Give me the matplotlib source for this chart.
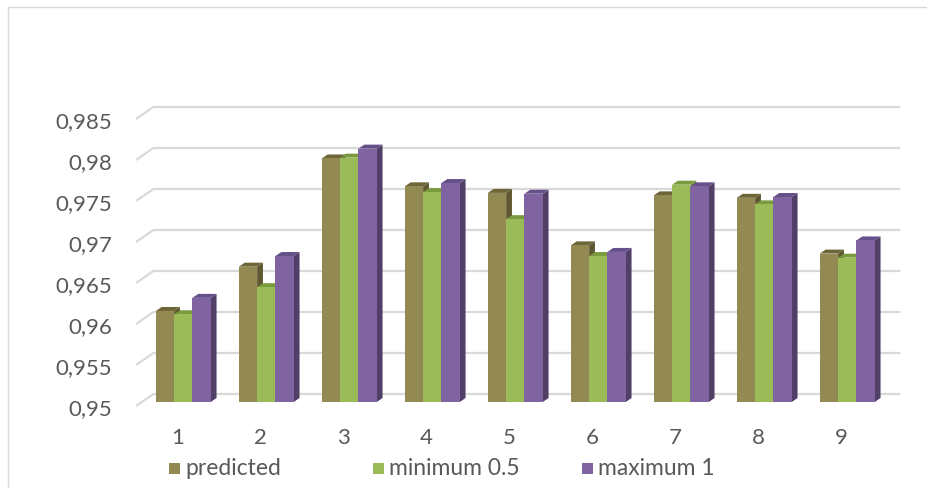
import matplotlib
matplotlib.use("Agg")
import matplotlib.pyplot as plt
from matplotlib.patches import Polygon, Rectangle
from matplotlib.lines import Line2D

categories = ['1', '2', '3', '4', '5', '6', '7', '8', '9']
predicted = [0.9611, 0.9665, 0.9797, 0.9763, 0.9755, 0.9691, 0.9752, 0.9749, 0.9681]
minimum = [0.9607, 0.9640, 0.9798, 0.9756, 0.9723, 0.9678, 0.9765, 0.9741, 0.9676]
maximum = [0.9627, 0.9678, 0.9809, 0.9767, 0.9754, 0.9683, 0.9763, 0.9750, 0.9697]
series_names = ['predicted', 'minimum 0.5', 'maximum 1']
y_ticks = [0.95, 0.955, 0.96, 0.965, 0.97, 0.975, 0.98, 0.985]
y_tick_labels = ['0,95', '0,955', '0,96', '0,965', '0,97', '0,975', '0,98', '0,985']

front_cols = ['#938953', '#9BBB59', '#8064A2']
top_cols = ['#6E6638', '#7A9A3E', '#65508A']
side_cols = ['#5E5732', '#6A8735', '#513F68']

FONT = ['Lato', 'DejaVu Sans']
TXT = '#595959'
GRID = '#D9D9D9'

W, H = 928, 489
fig = plt.figure(figsize=(W / 100, H / 100), dpi=100)
# axes = front plane of the 3D box
ax_l, ax_r, ax_b, ax_t = 136, 883, 407, 120   # pixel coords (y from top)
ax = fig.add_axes([ax_l / W, (H - ax_b) / H, (ax_r - ax_l) / W, (ax_b - ax_t) / H])
ax.set_xlim(0.5, 9.5)
ax.set_ylim(0.95, 0.985)
for s in ax.spines.values():
    s.set_visible(False)
ax.patch.set_alpha(0)

cx = 9.0 / (ax_r - ax_l)        # category units per pixel
cy = 0.035 / (ax_b - ax_t)      # value units per pixel
SX, SY = 1.45, 1.0              # oblique projection per depth pixel
DEPTH_BACK = 12
T1, T2 = 4, 8                   # bar front / back depth


def off(x, y, t):
    return (x + SX * t * cx, y + SY * t * cy)


# gridlines: diagonal on floor-left + back wall line
for v in y_ticks:
    p0 = (0.5, v)
    p1 = off(0.5, v, DEPTH_BACK)
    p2 = off(9.5, v, DEPTH_BACK)
    ax.add_line(Line2D([p0[0], p1[0], p2[0]], [p0[1], p1[1], p2[1]],
                       color=GRID, lw=1.6, zorder=1, solid_capstyle='butt',
                       clip_on=False))

ax.set_yticks(y_ticks)
ax.set_yticklabels(y_tick_labels)
ax.set_xticks(range(1, len(categories) + 1))
ax.set_xticklabels(categories)
ax.tick_params(axis='y', length=0, pad=17, labelsize=16, labelcolor=TXT)
ax.tick_params(axis='x', length=0, pad=15, labelsize=16, labelcolor=TXT)
for lab in ax.get_xticklabels() + ax.get_yticklabels():
    lab.set_family(FONT)

bw = 18.3 * cx
base = 0.95
all_series = [predicted, minimum, maximum]
for i in range(len(categories)):
    center = i + 1
    for k, vals in enumerate(all_series):
        v = vals[i]
        L = center - 1.5 * bw + k * bw
        R = L + bw
        front = [off(L, base, T1), off(R, base, T1), off(R, v, T1), off(L, v, T1)]
        top = [off(L, v, T1), off(R, v, T1), off(R, v, T2), off(L, v, T2)]
        side = [off(R, base, T1), off(R, base, T2), off(R, v, T2), off(R, v, T1)]
        z = 3 + i * 0.01 + k * 0.001
        for poly, col in ((side, side_cols[k]), (top, top_cols[k]), (front, front_cols[k])):
            ax.add_patch(Polygon(poly, closed=True, fc=col, ec='none', zorder=z,
                                 clip_on=False))

# legend
leg_x = [169, 373, 582]
leg_y = 469
for k, name in enumerate(series_names):
    fig.patches.append(Rectangle(((leg_x[k]) / W, (H - leg_y - 5.5) / H), 11 / W, 11 / H,
                                 transform=fig.transFigure, fc=front_cols[k], ec='none'))
    fig.text((leg_x[k] + 16) / W, (H - leg_y) / H, name, color=TXT, fontsize=16.5,
             family=FONT, va='center', ha='left')

# chart border (light frame)
fig.add_artist(Line2D([8 / W, 8 / W], [0, (H - 8) / H], transform=fig.transFigure,
                      color=GRID, lw=1.0))
fig.add_artist(Line2D([8 / W, 1], [(H - 8) / H, (H - 8) / H], transform=fig.transFigure,
                      color=GRID, lw=1.0))

fig.savefig('out.png', dpi=100)
